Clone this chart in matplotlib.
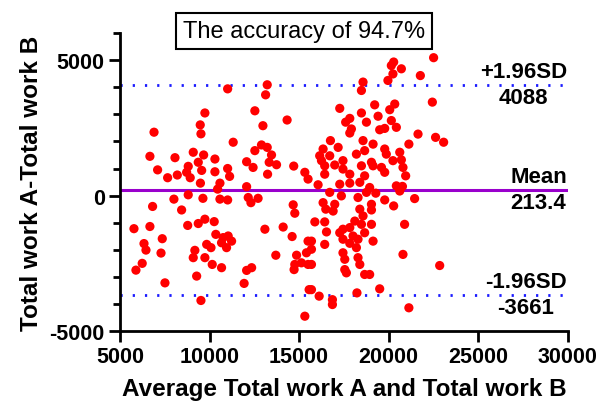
import matplotlib
matplotlib.use("Agg")
import matplotlib.pyplot as plt
from matplotlib.ticker import MultipleLocator

# average of the two measurements (x) and their difference (y)
avg_work = [
    9740, 9480, 9520, 6900, 6670, 7100, 7660, 8070, 8200, 9090, 9670, 9370, 8810, 8720, 8920, 9560,
    9490, 10300, 10300, 10580, 10450, 8810,
    8010, 9630, 10580, 6820, 8440, 5780, 6670, 8780, 9370, 9740, 10260, 7360, 6340, 6450, 7290, 10350,
    10760, 10670, 9840, 10080, 9180, 9090, 9740, 10150, 10670, 6240, 5890, 9280, 7510, 9520,
    11010, 13220, 13130, 12530, 12980, 14330, 11320, 12530, 12900, 13220, 13460, 13330, 13740, 12070,
    12430, 11010, 11120, 13240, 14700, 15320, 15500, 12070,
    11010, 12160, 12310, 12710, 14670, 14760, 13090, 14110, 14610, 11040, 11230, 10950, 15500, 13700,
    14860, 15410, 14760, 15130, 15500, 14720, 12070, 12350, 11930, 15560, 15320,
    18570, 18480, 17270, 18480, 17830, 17600, 17920, 17830, 18760, 18570, 16750, 16340, 17180, 16150,
    16710, 18200, 18660, 17450, 16990, 16430, 16250, 17450, 16430, 17830, 18480, 18660, 18390, 16060,
    17270, 17830, 16710, 17360, 18290, 18760, 16340, 16990, 16490, 18390, 16900, 18570, 15880, 16430,
    18110, 18480, 17830, 17450, 17270, 18660, 16530, 18010, 18290, 17830, 17450, 16430, 17450, 18200,
    15690, 15690, 17550, 18290, 18390, 15690, 17550, 18660, 17640, 15690, 16120, 18230, 16860, 16860,
    20280, 20150, 20710, 20240, 19960, 21770, 19220, 20340, 20060, 19410, 20150, 20430, 19780, 19500,
    21640, 19130, 21130, 19780, 19870, 20620, 20240, 20710, 19040, 19130, 19600, 19780, 20800, 20950,
    20430, 20770, 20620, 19280, 18940, 21450, 19780, 20280, 19040, 19040, 20890, 19040, 19130, 20800,
    18940, 19500, 21130,
    22510, 22440, 22620, 23070, 22850,
]
diff_work = [
    3050, 2610, 2280, 2340, 1450, 950, 660, 1400, 760, 1600, 1500, 1230, 1080, 860, 660, 930,
    460, 1350, 880, 460, 240, 30,
    -130, -100, -130, -400, -530, -1220, -1140, -1100, -1030, -870, -960, -1590, -1770, -2010, -2120, -1430,
    -1550, -1740, -1800, -1920, -2020, -2290, -2290, -2540, -2660, -2500, -2750, -2970, -3220, -3870,
    3940, 4090, 3720, 3130, 2580, 2790, 1970, 1660, 1870, 1780, 1500, 1230, 1140, 1250,
    1040, 1000, 710, 790, 1090, 860, 610, 330,
    -160, -70, -260, -100, -340, -650, -1240, -1160, -1510, -1490, -1680, -1920, -1680, -2200,
    -2200, -2110, -2540, -2480, -2540, -2730, -2760, -2660, -3240, -3470, -4450,
    4190, 3880, 3220, 3050, 2850, 2710, 2460, 2310, 2710, 2030, 2030, 1720, 1780, 1470,
    1470, 1530, 1660, 1290, 1130, 1100, 1290, 980, 790, 790, 1100, 730, 490, 400,
    420, 460, 120, -10, -70, 120, -260, -320, -500, -500, -570, -750, -970, -970,
    -940, -1060, -1180, -1240, -1370, -1370, -1340, -1490, -1610, -1760, -1610, -1800, -2110, -1920,
    -1680, -1980, -2350, -2290, -2540, -2540, -2730, -2910, -2850, -3470, -3710, -3590, -3840, -4020,
    4930, 4800, 4680, 4490, 4250, 4430, 3350, 3380, 3170, 2930, 2770, 2520, 2480, 2430,
    2270, 1900, 1900, 1720, 1530, 1600, 1290, 1320, 1230, 1100, 1040, 860, 1040, 730,
    360, 340, 170, 90, 300, -110, -160, -380, -320, -530, -1060, -1060, -1680, -2170,
    -2910, -3440, -4140,
    5090, 3450, 2150, 1970, -2580,
]

mean_diff = 213.4
upper_loa = 4088
lower_loa = -3661

plt.rcParams['font.family'] = ['Liberation Sans', 'DejaVu Sans']
plt.rcParams['axes.unicode_minus'] = False

fig = plt.figure(figsize=(5.97, 4.10), dpi=100)
ax = fig.add_axes([0.201, 0.190, 0.750, 0.727])

ax.axhline(upper_loa, color='#1a1aff', lw=2, ls=(0, (0.8, 3.6)), zorder=1)
ax.axhline(lower_loa, color='#1a1aff', lw=2, ls=(0, (0.8, 3.6)), zorder=1)
ax.axhline(mean_diff, color='#9900cc', lw=2.2, zorder=1)

ax.scatter(avg_work, diff_work, s=44, color='#ff0000', edgecolors='none', zorder=2)

ax.set_xlim(5000, 30000)
ax.set_ylim(-5000, 6000)
ax.xaxis.set_major_locator(MultipleLocator(5000))
ax.yaxis.set_major_locator(MultipleLocator(5000))
ax.yaxis.set_minor_locator(MultipleLocator(1000))

for side in ['top', 'right']:
    ax.spines[side].set_visible(False)
for side in ['left', 'bottom']:
    ax.spines[side].set_linewidth(2)
ax.tick_params(which='major', length=8, width=2, labelsize=15.5, pad=3)
ax.tick_params(which='minor', length=5, width=2)
for lab in ax.get_xticklabels() + ax.get_yticklabels():
    lab.set_fontweight('bold')

ax.set_xlabel('Average Total work A and Total work B', fontsize=17.5, fontweight='bold', labelpad=7)
ax.set_ylabel('Total work A-Total work B', fontsize=17.5, fontweight='bold', labelpad=5)

for val, name in [(upper_loa, '+1.96SD'), (mean_diff, 'Mean'), (lower_loa, '-1.96SD')]:
    ax.text(29950, val, f'{name}\n{val:g}', ha='right', va='center', multialignment='center',
            fontsize=16, fontweight='bold', linespacing=1.3)

fig.text(0.509, 0.921, 'The accuracy of 94.7%', ha='center', va='center', fontsize=17,
         bbox=dict(boxstyle='square,pad=0.3', fc='white', ec='black', lw=1.5))

fig.savefig('out.png', dpi=100)
